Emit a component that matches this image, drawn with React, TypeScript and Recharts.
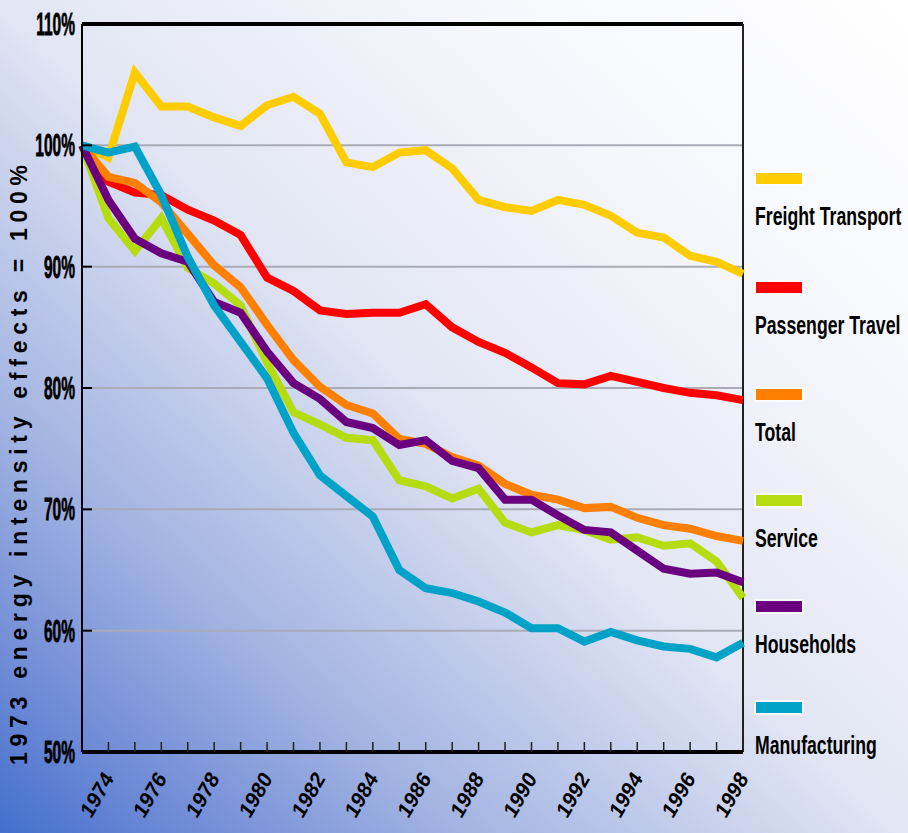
import { CartesianGrid, Line, LineChart, ReferenceLine, XAxis, YAxis } from "recharts";

const years = [
  1973, 1974, 1975, 1976, 1977, 1978, 1979, 1980, 1981, 1982, 1983, 1984, 1985,
  1986, 1987, 1988, 1989, 1990, 1991, 1992, 1993, 1994, 1995, 1996, 1997, 1998,
];

const freight = [
  100, 99.0, 106.0, 103.2, 103.2, 102.3, 101.6, 103.3, 104.0, 102.6, 98.6, 98.2, 99.4,
  99.6, 98.1, 95.5, 94.9, 94.6, 95.5, 95.1, 94.2, 92.8, 92.4, 90.9, 90.4, 89.4,
];
const passenger = [
  100, 97.0, 96.1, 95.9, 94.7, 93.8, 92.6, 89.1, 88.0, 86.4, 86.1, 86.2, 86.2,
  86.9, 85.0, 83.8, 82.9, 81.7, 80.4, 80.3, 81.0, 80.5, 80.0, 79.6, 79.4, 79.0,
];
const total = [
  100, 97.4, 96.9, 95.3, 92.7, 90.1, 88.3, 85.2, 82.3, 80.1, 78.6, 77.9, 75.8,
  75.4, 74.3, 73.6, 72.1, 71.2, 70.8, 70.1, 70.2, 69.3, 68.7, 68.4, 67.8, 67.4,
];
const service = [
  100, 94.0, 91.3, 94.0, 89.9, 88.6, 86.8, 82.1, 78.0, 77.0, 75.9, 75.7, 72.4,
  71.9, 70.9, 71.7, 68.9, 68.1, 68.7, 68.3, 67.5, 67.7, 67.0, 67.2, 65.7, 62.7,
];
const households = [
  100, 95.5, 92.3, 91.1, 90.4, 87.1, 86.2, 83.0, 80.4, 79.1, 77.2, 76.7, 75.3,
  75.7, 74.0, 73.4, 70.8, 70.8, 69.5, 68.3, 68.1, 66.6, 65.1, 64.7, 64.8, 64.0,
];
const manufacturing = [
  100, 99.4, 99.9, 95.9, 90.8, 86.8, 83.8, 80.8, 76.3, 72.8, 71.1, 69.4, 65.0,
  63.5, 63.1, 62.4, 61.5, 60.2, 60.2, 59.1, 59.9, 59.2, 58.7, 58.5, 57.8, 59.0,
];

const yTicks = [50, 60, 70, 80, 90, 100, 110];
const xTicks = years.slice(1);

const series = [
  { key: "freight", name: "Freight Transport", color: "#ffcc00" },
  { key: "passenger", name: "Passenger Travel", color: "#ff0000" },
  { key: "total", name: "Total", color: "#ff8000" },
  { key: "service", name: "Service", color: "#b4dc10" },
  { key: "households", name: "Households", color: "#6a0080" },
  { key: "manufacturing", name: "Manufacturing", color: "#00a2c8" },
];

const data = years.map((year, i) => ({
  year,
  freight: freight[i],
  passenger: passenger[i],
  total: total[i],
  service: service[i],
  households: households[i],
  manufacturing: manufacturing[i],
}));

const sans = '"Liberation Sans", Arial, sans-serif';

function YearTick(props: any) {
  const { x, y, payload } = props;
  const yr = payload.value as number;
  return (
    <g>
      {yr < 1998 && <line x1={x} x2={x} y1={y} y2={y - 10} stroke="#222" strokeWidth={1.5} />}
      {yr % 2 === 0 && (
        <text
          transform={`translate(${x + 6}, ${y + 27}) rotate(-60) skewX(-8)`}
          textAnchor="end"
          fontFamily={sans}
          fontWeight="bold"
          fontSize={21}
          fill="#000"
        >
          {yr}
        </text>
      )}
    </g>
  );
}

function PctTick(props: any) {
  const { x, y, payload } = props;
  return (
    <g>
      <line x1={x} x2={x + 10} y1={y} y2={y} stroke="#000" strokeWidth={2} />
      <text
        transform={`translate(${x - 7}, ${y + 11}) scale(0.5, 1)`}
        textAnchor="end"
        fontFamily={sans}
        fontWeight="bold"
        fontSize={31}
        stroke="#000"
        strokeWidth={0.8}
        fill="#000"
      >
        {payload.value}%
      </text>
    </g>
  );
}

const legendTops = [173, 282, 389, 495, 601, 702];

export default function App() {
  return (
    <div
      style={{
        position: "absolute",
        left: 0,
        top: 0,
        width: 908,
        height: 833,
        overflow: "hidden",
        background:
          "linear-gradient(to top right, #4270cc 0%, #6e8ad6 10%, #a2b3e2 25%, #e2e6f4 50%, #f6f7fc 75%, #ffffff 100%)",
      }}
    >
      <LineChart width={908} height={833} data={data} margin={{ top: 24, right: 165, bottom: 51, left: 0 }}>
        <CartesianGrid vertical={false} stroke="#a9abb6" strokeWidth={2} />
        <XAxis
          dataKey="year"
          type="number"
          domain={[1973, 1998]}
          ticks={xTicks}
          interval={0}
          height={30}
          tickSize={0}
          tickMargin={0}
          tick={(p: any) => <YearTick {...p} />}
          axisLine={{ stroke: "#000", strokeWidth: 4 }}
        />
        <YAxis
          type="number"
          domain={[50, 110]}
          ticks={yTicks}
          interval={0}
          width={82}
          tickSize={0}
          tickMargin={0}
          tick={(p: any) => <PctTick {...p} />}
          axisLine={{ stroke: "#000", strokeWidth: 2 }}
        />
        <ReferenceLine y={110} stroke="#000" strokeWidth={4} />
        <ReferenceLine x={1998} stroke="#222" strokeWidth={2} />
        {series.map((s) => (
          <Line
            key={s.key}
            type="linear"
            dataKey={s.key}
            name={s.name}
            stroke={s.color}
            strokeWidth={8}
            dot={false}
            activeDot={false}
            isAnimationActive={false}
          />
        ))}
      </LineChart>

      <svg width={908} height={833} style={{ position: "absolute", left: 0, top: 0, pointerEvents: "none" }}>
        <text
          transform="translate(27, 465) rotate(-90)"
          textAnchor="middle"
          fontFamily={sans}
          fontWeight="bold"
          fontSize={23}
          textLength={600}
          lengthAdjust="spacing"
          fill="#000"
        >
          1973 energy intensity effects = 100%
        </text>
        {series.map((s, i) => (
          <g key={s.key}>
            <rect x={754} y={legendTops[i] - 2} width={50} height={15} fill="#ffffff" opacity={0.7} />
            <rect x={756} y={legendTops[i]} width={46} height={11} fill={s.color} />
            <text
              transform={`translate(755, ${legendTops[i] + 52}) scale(0.68, 1)`}
              fontFamily={sans}
              fontWeight="bold"
              fontSize={26}
              fill="#000"
            >
              {s.name}
            </text>
          </g>
        ))}
      </svg>
    </div>
  );
}
